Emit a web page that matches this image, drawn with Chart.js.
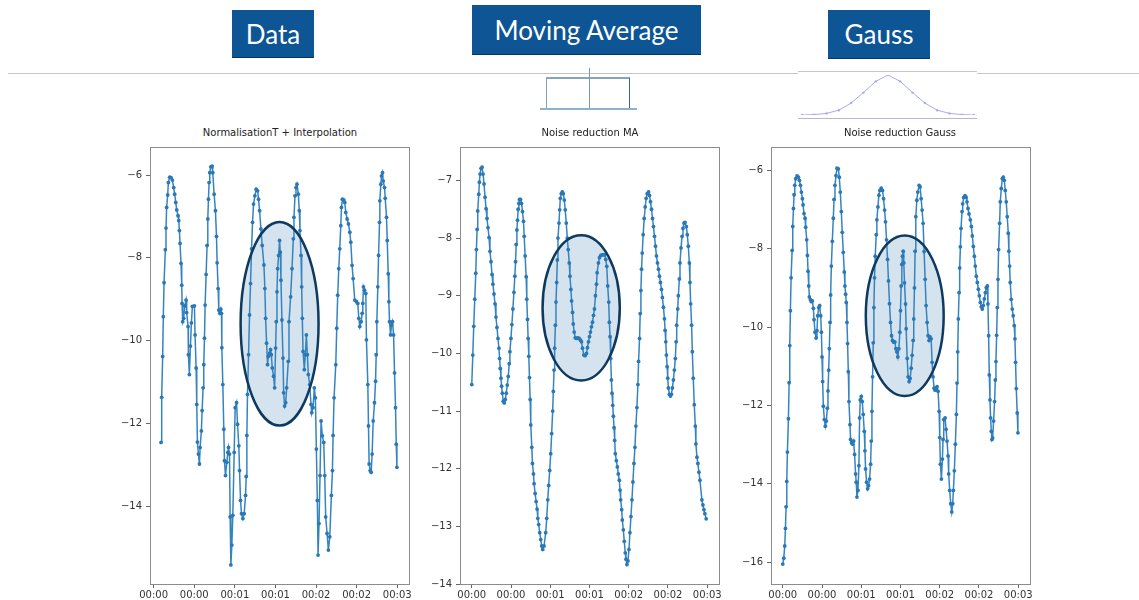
<!DOCTYPE html>
<html>
<head>
<meta charset="utf-8">
<script src="https://cdn.jsdelivr.net/npm/chart.js@4.4.1/dist/chart.umd.min.js"></script>
<style>
  body { margin: 0; width: 1139px; height: 600px; background: #fff; position: relative; overflow: hidden; font-family: 'DejaVu Sans', sans-serif; }
  .box { position: absolute; background: #0d5595; color: #fff; font-family: Lato, sans-serif; font-size: 26px; display: flex; align-items: center; justify-content: center; border-bottom: 1px solid #08365f; }
  .ttl { position: absolute; top: 127px; font-size: 10px; color: #222; text-align: center; width: 300px; }
  .ln { position: absolute; }
  canvas { position: absolute; }
</style>
</head>
<body>
<div class="box" style="left:232px;top:10px;width:82px;height:47px">Data</div>
<div class="box" style="left:472px;top:5px;width:229px;height:49px">Moving Average</div>
<div class="box" style="left:828px;top:10px;width:102px;height:48px">Gauss</div>

<div class="ln" style="left:8px;top:73px;width:790px;height:1px;background:#c6c6c6"></div>
<div class="ln" style="left:798px;top:71px;width:179px;height:1px;background:#c6c6c6"></div>
<div class="ln" style="left:977px;top:73px;width:162px;height:1px;background:#c6c6c6"></div>

<!-- moving average window icon -->
<div class="ln" style="left:546px;top:77px;width:82px;height:31px;border-left:1px solid #7f9fba;border-right:1px solid #3a6488;border-top:2px solid #86a5bf"></div>
<div class="ln" style="left:589px;top:68px;width:1px;height:42px;background:#7d98ae"></div>
<div class="ln" style="left:540px;top:108px;width:97px;height:2px;background:#8fb2cc"></div>

<!-- gauss kernel icon -->
<canvas id="gauss" width="180" height="48" style="left:798px;top:71px"></canvas>
<div class="ln" style="left:798px;top:118px;width:179px;height:1px;background:#b8b8c8"></div>

<div class="ttl" style="left:130px">NormalisationT + Interpolation</div>
<div class="ttl" style="left:440px">Noise reduction MA</div>
<div class="ttl" style="left:750px">Noise reduction Gauss</div>

<canvas id="c1" width="313" height="469" style="left:102px;top:137px"></canvas>
<canvas id="c2" width="313" height="469" style="left:412px;top:137px"></canvas>
<canvas id="c3" width="313" height="469" style="left:723px;top:137px"></canvas>

<script>
// x axis (seconds), shown as mm:ss
const xTickValues = [0, 0.5, 1, 1.5, 2, 2.5, 3];
const xLabels = ['00:00', '00:00', '00:01', '00:01', '00:02', '00:02', '00:03'];

const yTicks1 = [-14, -12, -10, -8, -6];
const yTicks2 = [-14, -13, -12, -11, -10, -9, -8, -7];
const yTicks3 = [-16, -14, -12, -10, -8, -6];

// Data: NormalisationT + Interpolation
const time1 = [
  0.091,0.099,0.111,0.119,0.128,0.144,0.152,0.160,0.173,0.181,
  0.198,0.214,0.230,0.247,0.259,0.272,0.284,0.300,0.309,0.317,
  0.325,0.337,0.346,0.350,0.358,0.370,0.383,0.399,0.407,0.424,
  0.428,0.440,0.453,0.465,0.477,0.502,0.510,0.523,0.531,0.539,
  0.551,0.564,0.572,0.588,0.597,0.609,0.617,0.626,0.634,0.646,
  0.658,0.667,0.675,0.683,0.691,0.704,0.720,0.728,0.745,0.761,
  0.774,0.782,0.794,0.802,0.815,0.827,0.835,0.840,0.852,0.864,
  0.872,0.885,0.901,0.914,0.922,0.934,0.942,0.951,0.963,0.975,
  0.992,1.004,1.021,1.033,1.049,1.058,1.070,1.082,1.099,1.115,
  1.132,1.140,1.148,1.156,1.169,1.181,1.193,1.206,1.218,1.230,
  1.247,1.263,1.280,1.292,1.305,1.321,1.337,1.358,1.370,1.379,
  1.391,1.403,1.412,1.428,1.440,1.449,1.461,1.477,1.490,1.502,
  1.510,1.519,1.527,1.539,1.551,1.560,1.568,1.580,1.593,1.601,
  1.613,1.626,1.638,1.658,1.667,1.687,1.704,1.720,1.728,1.741,
  1.753,1.765,1.782,1.794,1.802,1.815,1.823,1.831,1.840,1.856,
  1.868,1.881,1.893,1.905,1.922,1.938,1.947,1.963,1.979,1.992,
  2.004,2.016,2.025,2.037,2.049,2.062,2.078,2.095,2.107,2.119,
  2.136,2.152,2.169,2.189,2.202,2.210,2.222,2.243,2.255,2.267,
  2.280,2.292,2.305,2.313,2.325,2.342,2.354,2.366,2.383,2.399,
  2.416,2.428,2.444,2.457,2.477,2.498,2.514,2.527,2.539,2.556,
  2.568,2.576,2.584,2.597,2.613,2.621,2.638,2.646,2.654,2.667,
  2.679,2.691,2.704,2.720,2.733,2.741,2.749,2.761,2.770,2.782,
  2.786,2.798,2.807,2.819,2.827,2.844,2.852,2.868,2.877,2.889,
  2.897,2.905,2.918,2.930,2.942,2.955,2.967,2.979,2.988,2.996
];
const value1 = [
  -12.46,-11.37,-10.38,-9.42,-8.6,-7.8,-7.28,-6.78,-6.48,-6.18,
  -6.05,-6.06,-6.12,-6.3,-6.46,-6.66,-6.84,-6.98,-7.1,-7.34,
  -7.65,-8.13,-8.66,-9.1,-9.54,-9.46,-9.16,-9.02,-9.32,-9.66,
  -10.34,-10.82,-10.13,-9.57,-9.17,-9.16,-9.86,-10.66,-11.54,-12.45,
  -12.74,-12.98,-12.58,-12.18,-11.69,-11.14,-10.58,-9.94,-9.14,-8.4,
  -7.7,-7.06,-6.58,-6.18,-5.94,-5.8,-5.78,-5.94,-6.46,-6.86,
  -7.48,-8.12,-8.74,-9.26,-9.34,-9.24,-9.34,-10.17,-11.06,-12.14,
  -12.9,-13.26,-12.94,-12.7,-12.58,-12.74,-14.26,-15.42,-14.94,-14.22,
  -12.7,-11.62,-11.5,-12.02,-12.54,-13.14,-13.86,-14.18,-14.3,-14.18,
  -13.74,-13.28,-12.29,-11.3,-10.34,-9.38,-8.62,-7.78,-7.14,-6.7,
  -6.5,-6.34,-6.38,-6.58,-6.86,-7.3,-7.7,-8.17,-8.74,-9.46,
  -10.06,-10.58,-10.38,-10.3,-10.22,-10.34,-10.66,-10.86,-11.14,-10.18,
  -9.54,-8.82,-8.26,-7.94,-7.58,-7.86,-8.54,-9.5,-10.42,-11.26,
  -11.58,-11.5,-11.14,-10.5,-9.54,-8.94,-8.26,-7.54,-7.02,-6.5,
  -6.3,-6.22,-6.46,-6.86,-7.34,-7.94,-8.7,-9.46,-10.26,-10.7,
  -10.34,-9.86,-10.34,-10.82,-11.06,-11.54,-11.74,-11.62,-11.14,-11.38,
  -12.62,-13.86,-15.18,-14.42,-13.26,-11.94,-12.3,-12.46,-13.26,-14.26,
  -14.66,-15.06,-14.74,-13.74,-13.14,-12.29,-11.38,-10.58,-9.7,-8.9,
  -8.26,-7.78,-7.22,-6.78,-6.58,-6.6,-6.66,-6.9,-7.06,-7.18,
  -7.38,-7.62,-8.18,-8.5,-9.02,-9.06,-9.1,-9.46,-9.66,-9.54,
  -9.34,-9.1,-8.7,-8.78,-8.86,-9.98,-11.06,-12.06,-12.98,-13.14,
  -13.18,-12.74,-11.94,-11.5,-10.98,-10.34,-9.54,-8.7,-7.94,-7.14,
  -6.62,-6.22,-6.02,-5.94,-6.14,-6.3,-6.56,-7.02,-7.58,-8.38,
  -9.06,-9.54,-9.86,-9.62,-9.54,-9.86,-10.78,-11.62,-12.5,-13.06
];

// Noise reduction MA
const time2 = [
  0,0.013,0.025,0.038,0.051,0.059,0.068,0.076,0.089,0.097,
  0.106,0.118,0.131,0.144,0.156,0.169,0.182,0.194,0.207,0.220,
  0.232,0.245,0.258,0.270,0.283,0.296,0.308,0.321,0.334,0.346,
  0.355,0.363,0.372,0.380,0.389,0.401,0.414,0.427,0.439,0.452,
  0.465,0.477,0.486,0.499,0.511,0.524,0.537,0.549,0.558,0.566,
  0.575,0.583,0.591,0.600,0.608,0.621,0.634,0.646,0.659,0.668,
  0.680,0.693,0.701,0.710,0.718,0.727,0.735,0.744,0.752,0.765,
  0.773,0.786,0.794,0.807,0.820,0.832,0.841,0.853,0.866,0.879,
  0.891,0.904,0.921,0.942,0.955,0.968,0.980,0.993,1.006,1.018,
  1.031,1.039,1.048,1.056,1.065,1.073,1.082,1.090,1.098,1.111,
  1.120,1.128,1.141,1.153,1.166,1.179,1.191,1.204,1.217,1.229,
  1.242,1.251,1.263,1.272,1.284,1.293,1.305,1.318,1.335,1.352,
  1.369,1.386,1.398,1.411,1.428,1.445,1.462,1.474,1.487,1.500,
  1.512,1.525,1.538,1.551,1.563,1.576,1.589,1.597,1.614,1.627,
  1.643,1.660,1.677,1.694,1.707,1.720,1.732,1.745,1.753,1.762,
  1.770,1.779,1.787,1.796,1.804,1.813,1.821,1.829,1.842,1.855,
  1.867,1.880,1.889,1.897,1.910,1.918,1.931,1.943,1.956,1.965,
  1.977,1.990,2.003,2.015,2.028,2.041,2.053,2.066,2.079,2.091,
  2.104,2.117,2.125,2.138,2.146,2.155,2.163,2.172,2.184,2.197,
  2.210,2.222,2.235,2.252,2.265,2.277,2.290,2.303,2.315,2.328,
  2.341,2.353,2.366,2.379,2.391,2.404,2.417,2.429,2.442,2.455,
  2.463,2.472,2.480,2.489,2.497,2.505,2.518,2.531,2.543,2.556,
  2.569,2.581,2.594,2.603,2.611,2.624,2.632,2.645,2.653,2.666,
  2.679,2.691,2.704,2.717,2.734,2.746,2.759,2.772,2.780,2.789,
  2.801,2.810,2.822,2.835,2.848,2.856,2.869,2.881,2.894,2.907,
  2.932,2.945,2.958,2.970,2.987
];
const value2 = [
  -10.54,-10.03,-9.53,-9.06,-8.61,-8.2,-7.85,-7.53,-7.24,-7.03,
  -6.89,-6.79,-6.77,-6.89,-7.06,-7.29,-7.49,-7.66,-7.82,-7.99,
  -8.23,-8.41,-8.63,-8.8,-8.97,-9.14,-9.37,-9.55,-9.74,-9.91,
  -10.09,-10.26,-10.43,-10.57,-10.69,-10.83,-10.86,-10.8,-10.69,-10.55,
  -10.4,-10.18,-9.97,-9.74,-9.5,-9.23,-8.94,-8.66,-8.41,-8.11,
  -7.86,-7.69,-7.5,-7.4,-7.33,-7.33,-7.4,-7.54,-7.71,-7.97,
  -8.31,-8.67,-9.06,-9.41,-9.74,-10.05,-10.42,-10.8,-11.24,-11.63,
  -11.91,-12.09,-12.26,-12.43,-12.57,-12.7,-12.86,-12.97,-13.11,-13.23,
  -13.34,-13.4,-13.34,-13.11,-12.86,-12.54,-12.29,-12.03,-11.74,-11.39,
  -11.0,-10.66,-10.29,-9.91,-9.51,-9.11,-8.77,-8.38,-8.0,-7.74,
  -7.51,-7.31,-7.23,-7.2,-7.23,-7.34,-7.51,-7.74,-8.0,-8.2,
  -8.43,-8.66,-8.89,-9.09,-9.29,-9.49,-9.63,-9.73,-9.74,-9.73,
  -9.74,-9.77,-9.8,-9.91,-10.03,-10.04,-10.0,-9.9,-9.8,-9.71,
  -9.63,-9.54,-9.46,-9.34,-9.23,-9.0,-8.8,-8.6,-8.43,-8.34,
  -8.3,-8.29,-8.29,-8.29,-8.37,-8.49,-8.83,-9.11,-9.46,-9.71,
  -10.09,-10.46,-10.69,-10.9,-11.09,-11.29,-11.51,-11.74,-11.86,-11.97,
  -12.09,-12.2,-12.37,-12.54,-12.71,-12.89,-13.06,-13.26,-13.46,-13.57,
  -13.66,-13.6,-13.4,-13.11,-12.83,-12.54,-12.23,-11.91,-11.63,-11.26,
  -10.94,-10.54,-10.14,-9.74,-9.31,-8.91,-8.54,-8.26,-7.94,-7.66,
  -7.46,-7.31,-7.23,-7.2,-7.26,-7.37,-7.5,-7.66,-7.8,-7.97,
  -8.14,-8.31,-8.43,-8.54,-8.66,-8.77,-8.89,-9.03,-9.2,-9.4,
  -9.6,-9.8,-10.03,-10.23,-10.43,-10.6,-10.71,-10.74,-10.71,-10.6,
  -10.46,-10.29,-10.09,-9.8,-9.51,-9.23,-9.0,-8.71,-8.43,-8.17,
  -7.97,-7.83,-7.74,-7.73,-7.8,-7.94,-8.14,-8.43,-8.77,-9.14,
  -9.51,-9.97,-10.43,-10.89,-11.26,-11.57,-11.8,-11.91,-12.06,-12.2,
  -12.54,-12.63,-12.71,-12.78,-12.87
];

// Noise reduction Gauss
const time3 = [
  0,0.013,0.025,0.034,0.042,0.051,0.059,0.072,0.081,0.089,
  0.097,0.106,0.119,0.127,0.136,0.144,0.153,0.165,0.182,0.199,
  0.212,0.225,0.237,0.250,0.258,0.271,0.284,0.292,0.305,0.314,
  0.322,0.331,0.339,0.352,0.364,0.377,0.390,0.398,0.411,0.424,
  0.436,0.445,0.458,0.470,0.483,0.492,0.500,0.508,0.517,0.530,
  0.542,0.555,0.568,0.576,0.585,0.593,0.602,0.610,0.619,0.631,
  0.644,0.653,0.665,0.678,0.691,0.708,0.720,0.733,0.746,0.758,
  0.771,0.784,0.792,0.801,0.809,0.818,0.826,0.835,0.843,0.856,
  0.864,0.877,0.890,0.903,0.915,0.928,0.936,0.945,0.958,0.970,
  0.979,0.987,1.000,1.013,1.025,1.038,1.047,1.055,1.068,1.081,
  1.093,1.106,1.119,1.127,1.136,1.144,1.153,1.161,1.169,1.178,
  1.191,1.199,1.212,1.225,1.237,1.254,1.271,1.284,1.297,1.309,
  1.322,1.335,1.347,1.360,1.373,1.386,1.398,1.411,1.428,1.441,
  1.453,1.466,1.479,1.492,1.500,1.508,1.517,1.525,1.534,1.542,
  1.551,1.564,1.572,1.585,1.597,1.610,1.623,1.636,1.648,1.661,
  1.669,1.678,1.686,1.695,1.708,1.720,1.737,1.750,1.763,1.775,
  1.788,1.801,1.814,1.826,1.839,1.852,1.864,1.877,1.890,1.903,
  1.915,1.928,1.941,1.953,1.966,1.979,1.992,2.000,2.008,2.021,
  2.034,2.042,2.051,2.068,2.081,2.093,2.106,2.114,2.127,2.140,
  2.153,2.165,2.174,2.186,2.199,2.212,2.220,2.229,2.237,2.246,
  2.254,2.263,2.271,2.284,2.292,2.305,2.322,2.335,2.347,2.360,
  2.373,2.390,2.403,2.415,2.428,2.441,2.453,2.466,2.479,2.492,
  2.504,2.517,2.530,2.542,2.555,2.568,2.581,2.593,2.606,2.614,
  2.623,2.631,2.640,2.648,2.657,2.665,2.674,2.686,2.699,2.708,
  2.716,2.725,2.733,2.742,2.750,2.763,2.771,2.784,2.797,2.809,
  2.822,2.835,2.847,2.860,2.873,2.881,2.890,2.898,2.911,2.924,
  2.936,2.949,2.958,2.966,2.975,2.987,2.996
];
const value3 = [
  -16.05,-15.9,-15.59,-15.14,-14.59,-13.94,-13.19,-12.34,-11.42,-10.47,
  -9.58,-8.74,-8.04,-7.43,-6.97,-6.62,-6.38,-6.21,-6.14,-6.17,
  -6.25,-6.38,-6.55,-6.72,-6.88,-7.1,-7.22,-7.45,-7.77,-8.17,
  -8.57,-8.95,-9.23,-9.3,-9.35,-9.33,-9.52,-9.81,-10.13,-10.28,
  -10.09,-9.71,-9.5,-9.45,-9.71,-10.13,-10.76,-11.39,-12.02,-12.36,
  -12.53,-12.4,-12.07,-11.63,-11.1,-10.55,-9.88,-9.18,-8.44,-7.81,
  -7.22,-6.74,-6.38,-6.13,-5.94,-5.96,-6.17,-6.55,-7.05,-7.58,
  -8.09,-8.59,-8.95,-9.16,-9.37,-9.88,-10.42,-11.14,-11.9,-12.49,
  -12.87,-12.95,-12.99,-12.91,-13.25,-13.75,-13.96,-14.34,-14.17,-13.54,
  -12.32,-11.86,-11.77,-11.9,-12.23,-12.66,-13.16,-13.62,-13.96,-14.13,
  -14.05,-13.88,-13.5,-12.91,-12.15,-11.27,-10.4,-9.5,-8.74,-8.19,
  -7.64,-7.26,-6.93,-6.63,-6.51,-6.45,-6.51,-6.72,-7.01,-7.31,
  -7.77,-8.27,-8.82,-9.4,-9.88,-10.22,-10.34,-10.38,-10.38,-10.55,
  -10.63,-10.76,-10.55,-10.13,-9.58,-8.95,-8.4,-8.19,-8.06,-8.36,
  -8.87,-9.41,-10.04,-10.8,-11.27,-11.39,-11.31,-11.05,-10.72,-10.34,
  -9.79,-9.0,-8.06,-7.18,-6.76,-6.55,-6.38,-6.42,-6.72,-7.01,
  -7.35,-8.07,-8.78,-9.45,-9.88,-10.22,-10.34,-10.25,-10.3,-10.9,
  -11.27,-11.56,-11.61,-11.56,-11.52,-11.64,-12.15,-12.82,-13.5,-13.88,
  -13.37,-12.87,-12.36,-12.32,-12.61,-12.91,-13.29,-13.75,-14.17,-14.51,
  -14.72,-14.51,-14.17,-13.67,-12.99,-12.23,-11.43,-10.63,-9.79,-9.12,
  -8.49,-7.95,-7.48,-7.05,-6.85,-6.69,-6.64,-6.68,-6.8,-6.97,
  -7.11,-7.26,-7.43,-7.67,-7.94,-8.19,-8.44,-8.7,-8.86,-9.03,
  -9.2,-9.37,-9.48,-9.54,-9.45,-9.28,-9.12,-8.99,-8.95,-9.41,
  -10.22,-11.22,-11.86,-12.32,-12.66,-12.87,-12.83,-12.4,-11.9,-11.35,
  -10.88,-10.21,-9.5,-8.78,-8.02,-7.35,-6.8,-6.46,-6.21,-6.17,
  -6.25,-6.51,-6.8,-7.18,-7.6,-8.06,-8.44,-8.86,-9.29,-9.54,
  -9.71,-9.96,-10.3,-10.9,-11.57,-12.19,-12.7
];

// highlight ellipses: [centre time, centre value, half width (s), half height]
const ellipse1 = [1.551, -9.59, 0.48, 2.46];
const ellipse2 = [1.394, -9.21, 0.492, 1.26];
const ellipse3 = [1.554, -9.71, 0.496, 2.05];

// kernel shape for the icon
const gaussKernel = [0.0, 0.01, 0.04, 0.12, 0.3, 0.56, 0.84, 1.0, 0.84, 0.56, 0.3, 0.12, 0.04, 0.01, 0.0];

const lineColor = '#3584c0';

function ellipsePath(chart, e) {
    const c = chart.ctx, sx = chart.scales.x, sy = chart.scales.y;
    const cx = sx.getPixelForValue(e[0]);
    const cy = sy.getPixelForValue(e[1]);
    const rx = Math.abs(sx.getPixelForValue(e[0] + e[2]) - cx);
    const ry = Math.abs(sy.getPixelForValue(e[1] + e[3]) - cy);
    c.beginPath();
    c.ellipse(cx, cy, rx, ry, 0, 0, Math.PI * 2);
}

const ellipsePlugin = {
    id: 'ellipse',
    beforeDatasetsDraw(chart, args, opts) {
        if (!opts.e) return;
        const c = chart.ctx;
        c.save();
        ellipsePath(chart, opts.e);
        c.fillStyle = '#d5e3ee';
        c.fill();
        c.restore();
    },
    afterDatasetsDraw(chart, args, opts) {
        if (!opts.e) return;
        const c = chart.ctx;
        c.save();
        ellipsePath(chart, opts.e);
        c.strokeStyle = '#0f3a60';
        c.lineWidth = 2.5;
        c.stroke();
        c.restore();
    }
};

// full box round the plot, like matplotlib spines
const framePlugin = {
    id: 'frame',
    afterDraw(chart, args, opts) {
        if (!opts.on) return;
        const a = chart.chartArea, c = chart.ctx;
        c.save();
        c.strokeStyle = '#8c8c8c';
        c.lineWidth = 1;
        c.strokeRect(Math.round(a.left) + 0.5, Math.round(a.top) + 0.5, Math.round(a.right - a.left), Math.round(a.bottom - a.top));
        c.restore();
    }
};
Chart.register(ellipsePlugin, framePlugin);

const tickFont = { family: 'DejaVu Sans', size: 10 };

function makeChart(id, times, values, yTicks, xMin, xMax, yMin, yMax, ell) {
    const pts = times.map((t, i) => ({ x: t, y: values[i] }));
    return new Chart(document.getElementById(id), {
        type: 'line',
        data: {
            datasets: [{
                data: pts,
                borderColor: lineColor,
                backgroundColor: '#2a78b6',
                borderWidth: 1.5,
                pointRadius: 1.9,
                pointBorderWidth: 0,
                pointHoverRadius: 0,
                tension: 0
            }]
        },
        options: {
            responsive: false,
            animation: false,
            events: [],
            layout: { padding: { top: 6, right: 6, left: 0, bottom: 0 } },
            plugins: {
                legend: { display: false },
                tooltip: { enabled: false },
                ellipse: { e: ell },
                frame: { on: true }
            },
            scales: {
                x: {
                    type: 'linear',
                    min: xMin,
                    max: xMax,
                    afterBuildTicks: s => { s.ticks = xTickValues.map(v => ({ value: v })); },
                    afterFit: s => { s.height = 22; },
                    ticks: {
                        autoSkip: false,
                        maxRotation: 0,
                        padding: 1,
                        color: '#333',
                        font: tickFont,
                        callback: (v, i) => xLabels[i]
                    },
                    grid: { drawOnChartArea: false, tickLength: 4, color: '#666' },
                    border: { display: false }
                },
                y: {
                    min: yMin,
                    max: yMax,
                    afterBuildTicks: s => { s.ticks = yTicks.map(v => ({ value: v })); },
                    afterFit: s => { s.width = 48; },
                    ticks: {
                        autoSkip: false,
                        padding: 4,
                        color: '#333',
                        font: tickFont,
                        callback: v => '\u2212' + Math.abs(v)
                    },
                    grid: { drawOnChartArea: false, tickLength: 4, color: '#666' },
                    border: { display: false }
                }
            }
        }
    });
}

makeChart('c1', time1, value1, yTicks1, -0.045, 3.145, -15.88, -5.32, ellipse1);
makeChart('c2', time2, value2, yTicks2, -0.15, 3.15, -14, -6.42, ellipse2);
makeChart('c3', time3, value3, yTicks3, -0.15, 3.15, -16.56, -5.4, ellipse3);

// small kernel icon under "Gauss"
new Chart(document.getElementById('gauss'), {
    type: 'line',
    data: {
        labels: gaussKernel.map((v, i) => i),
        datasets: [{
            data: gaussKernel,
            borderColor: '#aaaaf2',
            backgroundColor: '#aaaaf2',
            borderWidth: 1,
            pointRadius: 1.2,
            pointBorderWidth: 0,
            tension: 0
        }]
    },
    options: {
        responsive: false,
        animation: false,
        events: [],
        layout: { padding: { top: 2, bottom: 1, left: 0, right: 0 } },
        plugins: { legend: { display: false }, tooltip: { enabled: false } },
        scales: {
            x: { display: false, offset: false },
            y: { display: false, min: 0, max: 1 }
        }
    }
});
</script>
</body>
</html>
